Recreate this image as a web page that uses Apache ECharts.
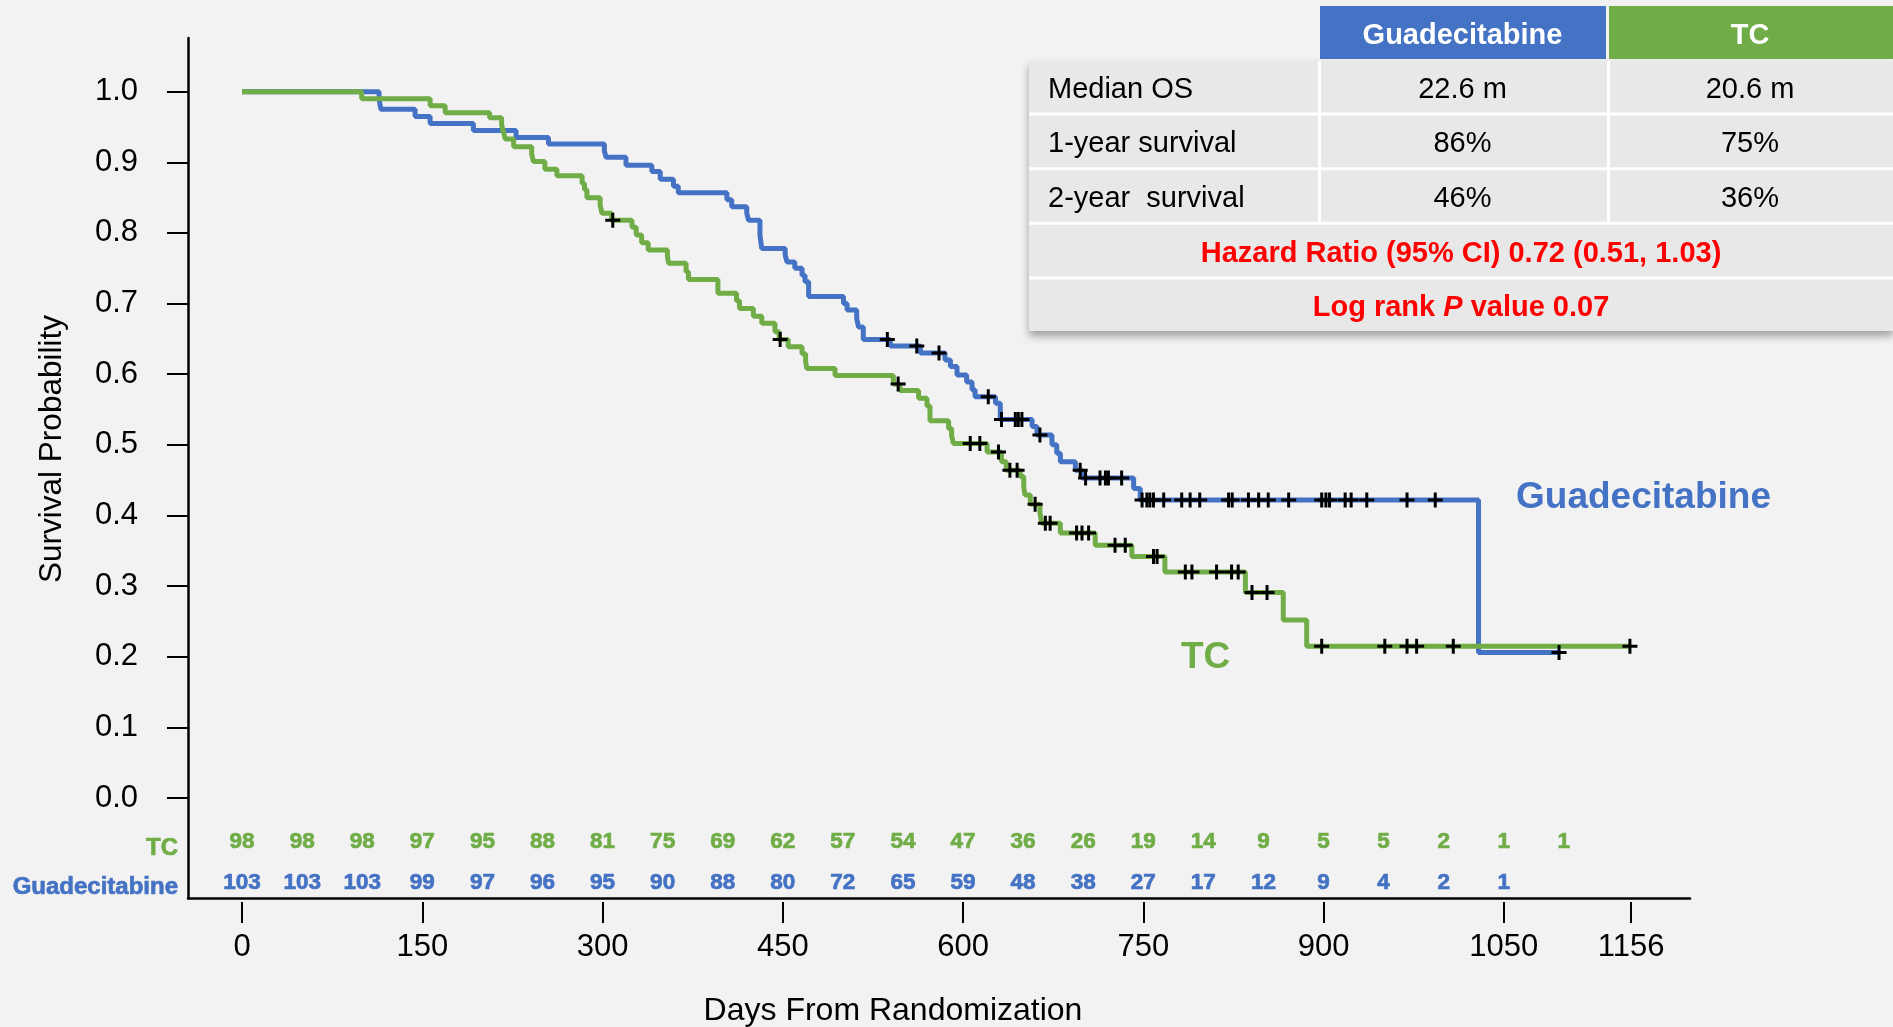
<!DOCTYPE html>
<html><head><meta charset="utf-8">
<script src="https://cdn.jsdelivr.net/npm/echarts@6/dist/echarts.min.js"></script>
<style>html,body{margin:0;padding:0;background:#F2F2F2;} #c{width:1893px;height:1027px;}</style>
</head><body><div id="c"></div>
<script>
// ---------- data ----------
const guadTimes = [0,114,115.5,144,156.5,192.5,228,255,301.5,303,319.5,341,348,359,363,403.5,407.5,420,421.5,431,432.5,452,453.5,460,466,468.5,471.5,500.5,503.5,511.5,513,517,539.5,564.5,585,589.5,595,603,607.5,610,627,631,657.5,661.5,674,678,681,693.5,699,742,747.5,1029,1096];
const guadSurv  = [1.0,0.990,0.975,0.965,0.955,0.945,0.935,0.926,0.916,0.907,0.896,0.887,0.876,0.866,0.857,0.847,0.837,0.828,0.818,0.797,0.778,0.769,0.759,0.750,0.740,0.731,0.710,0.700,0.691,0.679,0.667,0.649,0.640,0.630,0.620,0.611,0.599,0.589,0.578,0.568,0.559,0.536,0.526,0.514,0.500,0.488,0.476,0.464,0.453,0.438,0.422,0.206,0.206];
const tcTimes = [0,99.5,156.5,169,206,216,217.5,219,226,241,242.5,252,262,283,285,287,298,299.5,307.5,324.5,328,332.5,338,354,355,369.5,371.5,396,411.5,414,425.5,432.5,443.5,447,454.5,466,469,470,493.5,542,547.5,563,570,572.5,588,590.5,592,620,632,636,647.5,650.5,651.5,656,664,665.5,681,710,740.5,768,835,866.5,886,1156];
const tcSurv  = [1.0,0.990,0.980,0.970,0.963,0.953,0.943,0.933,0.922,0.912,0.901,0.890,0.881,0.870,0.861,0.850,0.839,0.828,0.818,0.808,0.797,0.786,0.776,0.767,0.757,0.745,0.734,0.7145,0.704,0.693,0.682,0.672,0.660,0.649,0.639,0.629,0.618,0.608,0.598,0.586,0.577,0.566,0.555,0.534,0.523,0.513,0.502,0.490,0.476,0.464,0.455,0.441,0.429,0.416,0.404,0.389,0.375,0.358,0.342,0.320,0.291,0.252,0.215,0.215];
const guadCensor = [537,561.5,580,621,632,643.5,646,649,664,697.5,702,714,718.5,721,732,749,753,755.5,758.5,767,782,789,797,821,824,837.5,846,854,871,898.5,902,905,918,923,936,969.5,993,1096];
const tcCensor = [308.5,447.8,546,606,614,629.5,639,645,660,668.5,672.5,694.5,699,704.5,726.5,735,758.5,761.5,785,790.5,811,823.5,829,840.5,853,898.5,951,969.5,977.5,1008,1155];
const riskDays = [0,50,100,150,200,250,300,350,400,450,500,550,600,650,700,750,800,850,900,950,1000,1050,1100];
const tcAtRisk = [98,98,98,97,95,88,81,75,69,62,57,54,47,36,26,19,14,9,5,5,2,1,1];
const guadAtRisk = [103,103,103,99,97,96,95,90,88,80,72,65,59,48,38,27,17,12,9,4,2,1];
const yTicks = [0,0.1,0.2,0.3,0.4,0.5,0.6,0.7,0.8,0.9,1.0];
const xTicks = [0,150,300,450,600,750,900,1050,1156];
const tableHeader = ['', 'Guadecitabine', 'TC'];
const tableRows = [['Median OS','22.6 m','20.6 m'],['1-year survival','86%','75%'],['2-year  survival','46%','36%']];
const hrText = 'Hazard Ratio (95% CI) 0.72 (0.51, 1.03)';
const logRankParts = ['Log rank ', 'P', ' value 0.07'];

// ---------- style ----------
const BLUE = '#4472C4', GREEN = '#70AD47', FONT = "'Liberation Sans', Arial, sans-serif";

function survAt(times, surv, t) {
  let s = surv[0];
  for (let i = 0; i < times.length; i++) { if (times[i] <= t) s = surv[i]; else break; }
  return s;
}
const zip = (a, b) => a.map((v, i) => [v, b[i]]);
const plusPath = 'path://M6,0h3v15h-3zM0,6h15v3h-15z';
const TXT = (x, y, text, font, fill, align, extra, stroke) => Object.assign({type:'text', x, y, style:Object.assign({text, font, fill, align, verticalAlign:'middle', textAlign:align, textVerticalAlign:'middle'}, stroke ? {stroke:fill, lineWidth:stroke} : {})}, extra || {});

// table graphics
const T = {L:1029, R:1893, c1:1318, c2:1607, hTop:6, hBot:59, top:61, pitch:54.6, gap:3, dy:3};
const g = [];
g.push({type:'rect', shape:{x:T.L, y:T.top, width:T.R-T.L, height:T.pitch*5-T.gap}, style:{fill:'#ffffff', shadowColor:'rgba(0,0,0,0.35)', shadowBlur:8, shadowOffsetY:5}});
g.push({type:'rect', shape:{x:T.c1+2, y:T.hTop, width:T.c2-T.c1-3, height:T.hBot-T.hTop}, style:{fill:BLUE}});
g.push({type:'rect', shape:{x:T.c2+2, y:T.hTop, width:T.R-T.c2-2, height:T.hBot-T.hTop}, style:{fill:GREEN}});
const colCenters = [null, (T.c1+T.c2)/2, (T.c2+T.R)/2];
[1,2].forEach(k => g.push(TXT(colCenters[k], (T.hTop+T.hBot)/2+T.dy, tableHeader[k], 'bold 29px '+FONT, '#fff', 'center')));
tableRows.forEach((row, r) => {
  const y0 = T.top + r*T.pitch, h = T.pitch - T.gap;
  g.push({type:'rect', shape:{x:T.L, y:y0, width:T.c1-T.L, height:h}, style:{fill:'#E8E8E8'}});
  g.push({type:'rect', shape:{x:T.c1+3, y:y0, width:T.c2-T.c1-3, height:h}, style:{fill:'#E8E8E8'}});
  g.push({type:'rect', shape:{x:T.c2+3, y:y0, width:T.R-T.c2-3, height:h}, style:{fill:'#E8E8E8'}});
  g.push(TXT(T.L+19, y0+h/2+T.dy, row[0], '29px '+FONT, '#000', 'left'));
  [1,2].forEach(k => g.push(TXT(colCenters[k], y0+h/2+T.dy, row[k], '29px '+FONT, '#000', 'center')));
});
[3,4].forEach(r => {
  const y0 = T.top + r*T.pitch, h = T.pitch - T.gap;
  g.push({type:'rect', shape:{x:T.L, y:y0, width:T.R-T.L, height:h}, style:{fill:'#E8E8E8'}});
});
const midX = (T.L+T.R)/2;
g.push(TXT(midX, T.top+3*T.pitch+(T.pitch-T.gap)/2+T.dy, hrText, 'bold 29px '+FONT, '#FF0000', 'center'));
g.push({type:'text', x:midX, y:T.top+4*T.pitch+(T.pitch-T.gap)/2+T.dy, style:{
  text:'{b|'+logRankParts[0]+'}{i|'+logRankParts[1]+'}{b|'+logRankParts[2]+'}',
  align:'center', verticalAlign:'middle', textAlign:'center', textVerticalAlign:'middle',
  rich:{b:{fontFamily:FONT, fontSize:29, fontWeight:'bold', fill:'#FF0000', color:'#FF0000'}, i:{fontFamily:FONT, fontSize:29, fontWeight:'bold', fontStyle:'italic', fill:'#FF0000', color:'#FF0000'}}}});
// curve labels, axis titles, at-risk row labels
g.push(TXT(1516, 498, 'Guadecitabine', 'bold 37px '+FONT, BLUE, 'left'));
g.push(TXT(1181, 658, 'TC', 'bold 37px '+FONT, GREEN, 'left'));
g.push(TXT(893, 1011, 'Days From Randomization', '32px '+FONT, '#000', 'center'));
g.push(TXT(52, 449, 'Survival Probability', '31.5px '+FONT, '#000', 'center', {rotation:Math.PI/2}));
g.push(TXT(178, 848, 'TC', 'bold 24px '+FONT, GREEN, 'right', null, 0.7));
g.push(TXT(178, 887, 'Guadecitabine', 'bold 24px '+FONT, BLUE, 'right', null, 0.7));

const TC_ROW = -0.0625, GUAD_ROW = -0.1205;
const atRiskLabel = color => ({show:true, position:'inside', formatter:p => p.value[2], color, opacity:1, fontWeight:'bold', fontSize:22.5, fontFamily:FONT, textBorderColor:color, textBorderWidth:0.7});
const option = {
  backgroundColor:'#F2F2F2',
  animation:false,
  grid:{left:188, right:203, top:38, bottom:129, containLabel:false},
  xAxis:[
    {type:'value', min:-45, max:1205, splitLine:{show:false},
      axisLine:{show:true, onZero:false, lineStyle:{color:'#000', width:2.5}},
      axisTick:{show:false}, axisLabel:{show:false}},
    {type:'value', min:-45, max:1205, position:'bottom', offset:4, splitLine:{show:false},
      axisLine:{show:false, onZero:false},
      axisTick:{show:true, customValues:xTicks, length:21, lineStyle:{color:'#000', width:2}},
      axisLabel:{customValues:xTicks, formatter:v => String(v), margin:30, fontSize:31, color:'#000', fontFamily:FONT}}
  ],
  yAxis:{type:'value', min:-0.1416, max:1.076,
    splitLine:{show:false},
    axisLine:{show:true, onZero:false, lineStyle:{color:'#000', width:2.5}},
    axisTick:{show:true, customValues:yTicks, length:21, lineStyle:{color:'#000', width:2}},
    axisLabel:{customValues:yTicks, formatter:v => v.toFixed(1), margin:50, fontSize:31, color:'#000', fontFamily:FONT}},
  graphic:{elements:g},
  series:[
    {type:'line', name:'Guadecitabine', step:'end', data:zip(guadTimes, guadSurv), showSymbol:false, silent:true, z:2,
      lineStyle:{color:BLUE, width:5}},
    {type:'line', name:'TC', step:'end', data:zip(tcTimes, tcSurv), showSymbol:false, silent:true, z:3,
      lineStyle:{color:GREEN, width:5}},
    {type:'scatter', data:guadCensor.map(t => [t, survAt(guadTimes, guadSurv, t)]), symbol:plusPath, symbolSize:15, silent:true, z:5,
      itemStyle:{color:'#000', opacity:1}},
    {type:'scatter', data:tcCensor.map(t => [t, survAt(tcTimes, tcSurv, t)]), symbol:plusPath, symbolSize:15, silent:true, z:5,
      itemStyle:{color:'#000', opacity:1}},
    {type:'scatter', data:tcAtRisk.map((n, i) => [riskDays[i], TC_ROW, n]), symbolSize:1, silent:true, itemStyle:{color:'rgba(0,0,0,0)', opacity:1},
      label:atRiskLabel(GREEN)},
    {type:'scatter', data:guadAtRisk.map((n, i) => [riskDays[i], GUAD_ROW, n]), symbolSize:1, silent:true, itemStyle:{color:'rgba(0,0,0,0)', opacity:1},
      label:atRiskLabel(BLUE)}
  ]
};
const chart = echarts.init(document.getElementById('c'), null, {renderer:'canvas'});
chart.setOption(option);
</script>
</body></html>
